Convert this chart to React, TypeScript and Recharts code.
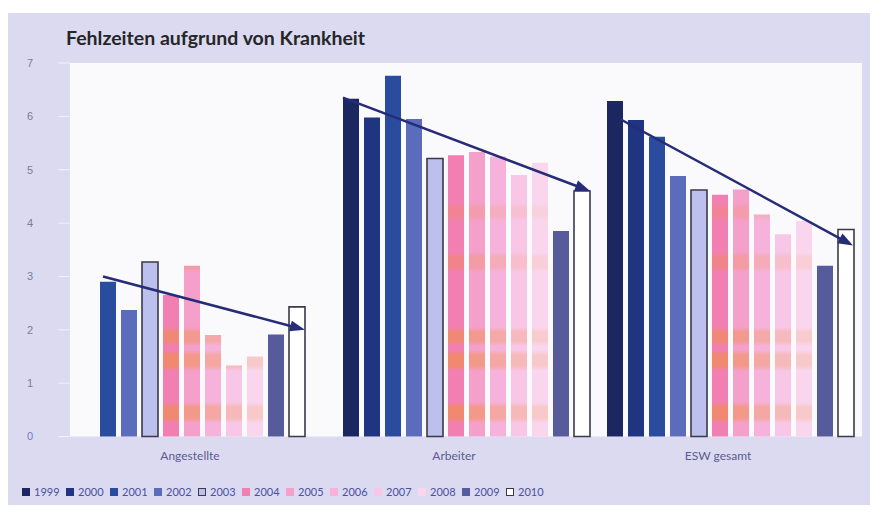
import React from "react";
import {
  Bar,
  CartesianGrid,
  Cell,
  ComposedChart,
  ReferenceLine,
  XAxis,
  YAxis,
} from "recharts";

// Werte (Fehltage in %)
const years = ["1999", "2000", "2001", "2002", "2003", "2004", "2005", "2006", "2007", "2008", "2009", "2010"];
const categories = ["Angestellte", "Arbeiter", "ESW gesamt"];
const angestellte = [null, null, 2.9, 2.37, 3.27, 2.65, 3.2, 1.9, 1.33, 1.5, 1.91, 2.43];
const arbeiter = [6.33, 5.98, 6.76, 5.95, 5.21, 5.27, 5.33, 5.25, 4.9, 5.13, 3.85, 4.6];
const eswGesamt = [6.29, 5.93, 5.62, 4.88, 4.62, 4.53, 4.63, 4.16, 3.79, 4.04, 3.2, 3.88];
const yTicks = [0, 1, 2, 3, 4, 5, 6, 7];

// Trendpfeile: [Lage im Kategorienband (0..3), Wert]
const trendStart = [[0.125, 3.0], [1.034, 6.35], [2.083, 5.95]];
const trendEnd = [[0.89, 2.0], [1.97, 4.6], [2.966, 3.58]];

const SLOTS = 12;
const CHART_H = 470;
const ORANGE = "#f0902e";

const yearFill: Record<string, string> = {
  "1999": "#1c2762",
  "2000": "#1f3582",
  "2001": "#2a4c9f",
  "2002": "#5b6cbd",
  "2003": "#bcc0ec",
  "2004": "#f27fb2",
  "2005": "#f59fcb",
  "2006": "#f6b2da",
  "2007": "#f8c6e6",
  "2008": "#fad6ee",
  "2009": "#565b9c",
  "2010": "#ffffff",
};
const stripeStrength: Record<string, number> = {
  "2004": 0.5,
  "2005": 0.42,
  "2006": 0.32,
  "2007": 0.24,
  "2008": 0.18,
};
const outlined = ["2003", "2010"];

// Raster-Streifen aus dem Scan: [oben, unten, Stärke] in Diagramm-Pixeln
const stripeBands = [[194, 204, 0.45], [243, 255, 0.6], [318, 329, 0.9], [341, 354, 1], [393, 406, 1]];

function mix(a: string, b: string, t: number) {
  const pa = [1, 3, 5].map((i) => parseInt(a.slice(i, i + 2), 16));
  const pb = [1, 3, 5].map((i) => parseInt(b.slice(i, i + 2), 16));
  return "#" + pa.map((v, i) => Math.round(v + (pb[i] - v) * t).toString(16).padStart(2, "0")).join("");
}

function fillFor(year?: string) {
  if (!year) return "none";
  return stripeStrength[year] != null ? `url(#stripe${year})` : yearFill[year];
}

// Jahre pro Gruppe lückenlos und zentriert auf die 12 Plätze verteilen
const series = [angestellte, arbeiter, eswGesamt];
const rows = categories.map((cat, ci) => {
  const present = years
    .map((year, yi) => ({ year, value: series[ci][yi] }))
    .filter((d) => d.value != null);
  const off = Math.floor((SLOTS - present.length) / 2);
  const row: Record<string, any> = { cat, pos: ci + 0.5 };
  present.forEach((d, k) => {
    row[`s${off + k}`] = d.value;
    row[`y${off + k}`] = d.year;
  });
  return row;
});

const Arrow = (props: any) => {
  const { x1, y1, x2, y2 } = props;
  const dx = x2 - x1;
  const dy = y2 - y1;
  const len = Math.hypot(dx, dy) || 1;
  const ux = dx / len;
  const uy = dy / len;
  const head = 15;
  const half = 5.5;
  const bx = x2 - ux * head;
  const by = y2 - uy * head;
  return (
    <g>
      <line x1={x1} y1={y1} x2={bx + ux * 2} y2={by + uy * 2} stroke="#262c78" strokeWidth={2.5} />
      <polygon
        points={`${x2},${y2} ${bx - uy * half},${by + ux * half} ${bx + uy * half},${by - ux * half}`}
        fill="#262c78"
      />
    </g>
  );
};

const CategoryTick = (props: any) => {
  const { x, y, payload } = props;
  return (
    <text x={x - 12} y={y} dy="0.71em" textAnchor="middle" fontSize={12} fill="#5b5b8f" fontFamily="Lato">
      {payload.value}
    </text>
  );
};

const ValueTick = (props: any) => {
  const { x, y, payload } = props;
  return (
    <text
      x={x}
      y={y}
      dy="0.355em"
      textAnchor="end"
      fontSize={11}
      fontFamily="Liberation Sans"
      fill={payload.value === 0 ? "#6f7cc0" : "#7c7c96"}
    >
      {payload.value}
    </text>
  );
};

function Legende() {
  return (
    <div
      style={{
        position: "absolute",
        left: 14,
        top: 472,
        display: "flex",
        fontFamily: "Lato",
        fontSize: 11,
        color: "#4a50a0",
        lineHeight: "14px",
      }}
    >
      {years.map((y) => (
        <div key={y} style={{ width: 44, display: "flex", alignItems: "center" }}>
          <span
            style={{
              display: "inline-block",
              width: 8,
              height: 8,
              marginRight: 4,
              boxSizing: "border-box",
              background: yearFill[y],
              border: outlined.includes(y) ? "1px solid #3a3a4a" : "none",
            }}
          />
          {y}
        </div>
      ))}
    </div>
  );
}

export default function App() {
  return (
    <div style={{ marginTop: 5, width: 862, height: 492, background: "#dbdaf1", position: "relative" }}>
      <div
        style={{
          position: "absolute",
          left: 58,
          top: 13,
          fontFamily: "Lato",
          fontWeight: 700,
          fontSize: 19.5,
          lineHeight: "24px",
          color: "#262626",
        }}
      >
        Fehlzeiten aufgrund von Krankheit
      </div>
      <div style={{ position: "absolute", left: 0, top: 0 }}>
        <ComposedChart
          width={862}
          height={CHART_H}
          data={rows}
          margin={{ top: 50, right: 8, bottom: 16.5, left: 22 }}
          barGap={5}
        >
          <defs>
            {Object.keys(stripeStrength).map((y) => {
              const base = yearFill[y];
              return (
                <linearGradient key={y} id={`stripe${y}`} gradientUnits="userSpaceOnUse" x1={0} y1={0} x2={0} y2={CHART_H}>
                  <stop offset={0} stopColor={base} />
                  {stripeBands.flatMap(([a, b, w], i) => {
                    const band = mix(base, ORANGE, stripeStrength[y] * w);
                    return [
                      <stop key={`${i}a`} offset={(a - 4) / CHART_H} stopColor={base} />,
                      <stop key={`${i}b`} offset={(a + 1) / CHART_H} stopColor={band} />,
                      <stop key={`${i}c`} offset={(b - 1) / CHART_H} stopColor={band} />,
                      <stop key={`${i}d`} offset={(b + 4) / CHART_H} stopColor={base} />,
                    ];
                  })}
                  <stop offset={1} stopColor={base} />
                </linearGradient>
              );
            })}
          </defs>
          <CartesianGrid xAxisId="cat" fill="#fafafd" horizontal={false} vertical={false} />
          <XAxis
            xAxisId="cat"
            dataKey="cat"
            tickLine={false}
            axisLine={false}
            tickMargin={9}
            interval={0}
            tick={<CategoryTick />}
          />
          <XAxis xAxisId="t" dataKey="pos" type="number" domain={[0, 3]} allowDataOverflow hide />
          <YAxis
            domain={[0, 7]}
            ticks={yTicks}
            width={40}
            axisLine={false}
            tickSize={12}
            tickLine={{ stroke: "#f2f2fb" }}
            tickMargin={25}
            tick={<ValueTick />}
          />
          {Array.from({ length: SLOTS }, (_, k) => (
            <Bar key={k} xAxisId="cat" dataKey={`s${k}`} barSize={16} isAnimationActive={false}>
              {rows.map((r, i) => {
                const year = r[`y${k}`];
                const isOutlined = outlined.includes(year);
                return (
                  <Cell
                    key={i}
                    fill={fillFor(year)}
                    stroke={isOutlined ? "#3a3a4a" : "none"}
                    strokeWidth={isOutlined ? 1.6 : 0}
                  />
                );
              })}
            </Bar>
          ))}
          {trendStart.map((s, i) => (
            <ReferenceLine
              key={i}
              xAxisId="t"
              segment={[
                { x: s[0], y: s[1] },
                { x: trendEnd[i][0], y: trendEnd[i][1] },
              ]}
              ifOverflow="visible"
              shape={Arrow}
            />
          ))}
        </ComposedChart>
      </div>
      <Legende />
    </div>
  );
}
